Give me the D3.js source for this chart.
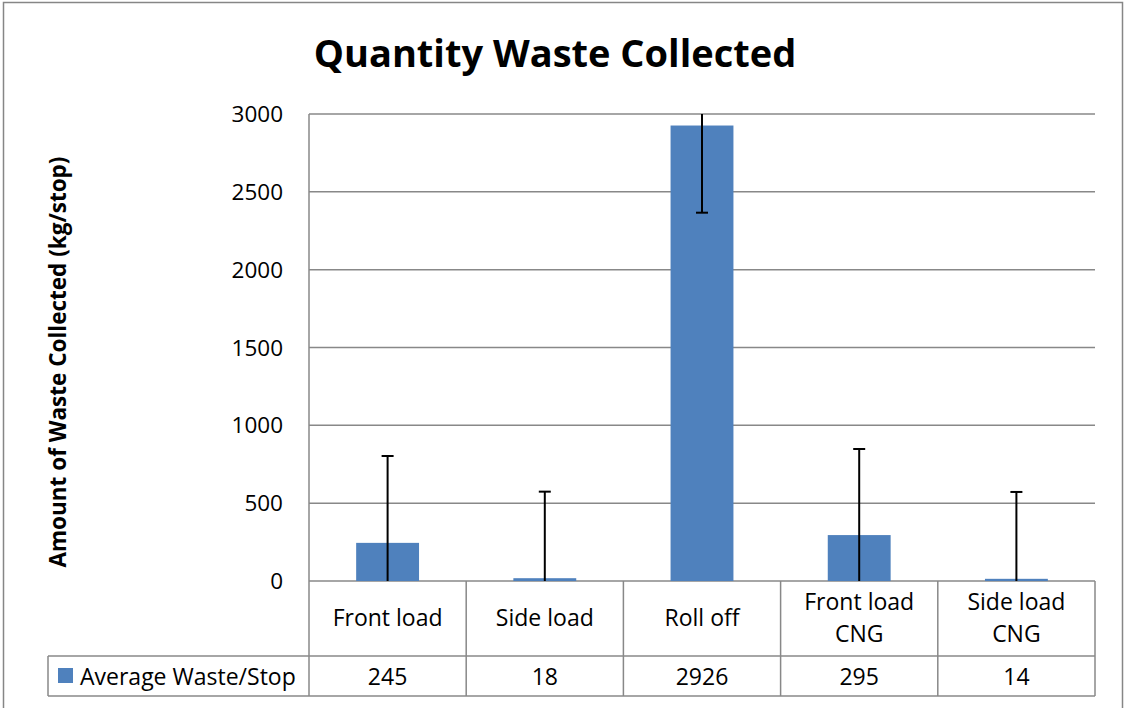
<!DOCTYPE html>
<html>
<head>
<meta charset="utf-8">
<script src="https://cdn.jsdelivr.net/npm/d3@7"></script>
<style>
  body { margin: 0; background: #fff; }
  svg { display: block; font-family: "Open Sans", sans-serif; }
</style>
</head>
<body>
<svg id="chart" width="1126" height="708"></svg>
<script>
// data
const categories = [["Front load"], ["Side load"], ["Roll off"], ["Front load", "CNG"], ["Side load", "CNG"]];
const values = [245, 18, 2926, 295, 14];
const errors = [558, 556, 560, 553, 558];
const yTicks = [0, 500, 1000, 1500, 2000, 2500, 3000];
const seriesName = "Average Waste/Stop";

const barColor = "#4f81bd";
const lineColor = "#888888";

const margin = { left: 309, right: 1095, top: 114, bottom: 581 };
const tableRow1 = 656; // bottom of category row
const tableRow2 = 696; // bottom of value row
const legendLeft = 48;

const svg = d3.select("#chart");

// outer chart border
svg.append("rect")
    .attr("x", 3.5)
    .attr("y", 2.5)
    .attr("width", 1119)
    .attr("height", 720)
    .attr("fill", "none")
    .attr("stroke", "#868686")
    .attr("stroke-width", 1.5);

const xScale = d3.scaleBand()
    .domain(d3.range(categories.length))
    .range([margin.left, margin.right])
    .padding(0);

const yScale = d3.scaleLinear()
    .domain([0, 3000])
    .range([margin.bottom, margin.top]);

// gridlines
svg.append("g")
    .selectAll("line")
    .data(yTicks)
    .join("line")
        .attr("x1", margin.left)
        .attr("x2", margin.right)
        .attr("y1", d => yScale(d))
        .attr("y2", d => yScale(d))
        .attr("stroke", lineColor)
        .attr("stroke-width", 1.5);

// y tick labels
svg.append("g")
    .selectAll("text")
    .data(yTicks)
    .join("text")
        .attr("x", 283)
        .attr("y", d => yScale(d))
        .attr("dy", "0.36em")
        .attr("text-anchor", "end")
        .attr("font-size", 22.5)
        .attr("fill", "#000")
        .text(d => d);

// bars
const barW = xScale.bandwidth() * 0.4;
svg.append("g")
    .selectAll("rect")
    .data(values)
    .join("rect")
        .attr("x", (d, i) => xScale(i) + (xScale.bandwidth() - barW) / 2)
        .attr("y", d => yScale(d))
        .attr("width", barW)
        .attr("height", d => yScale(0) - yScale(d))
        .attr("fill", barColor);

// error bars, clipped to the plot area
svg.append("clipPath")
    .attr("id", "plotClip")
    .append("rect")
        .attr("x", margin.left)
        .attr("y", margin.top)
        .attr("width", margin.right - margin.left)
        .attr("height", margin.bottom - margin.top);

const errG = svg.append("g").attr("clip-path", "url(#plotClip)");
values.forEach((v, i) => {
    const cx = xScale(i) + xScale.bandwidth() / 2;
    const hi = v + errors[i];
    const lo = v - errors[i];
    errG.append("line")
        .attr("x1", cx).attr("x2", cx)
        .attr("y1", yScale(hi)).attr("y2", yScale(lo))
        .attr("stroke", "#000").attr("stroke-width", 2);
    [hi, lo].forEach(e => {
        if (e >= 0 && e <= 3000) {
            errG.append("line")
                .attr("x1", cx - 6).attr("x2", cx + 6)
                .attr("y1", yScale(e)).attr("y2", yScale(e))
                .attr("stroke", "#000").attr("stroke-width", 2);
        }
    });
});

// left axis line down through the table
svg.append("line")
    .attr("x1", margin.left).attr("x2", margin.left)
    .attr("y1", margin.top).attr("y2", tableRow2)
    .attr("stroke", lineColor).attr("stroke-width", 1.5);

// data table lines
const table = svg.append("g")
    .attr("stroke", lineColor)
    .attr("stroke-width", 1.5);

d3.range(1, categories.length + 1).forEach(i => {
    const x = i === categories.length ? margin.right : xScale(i);
    table.append("line")
        .attr("x1", x).attr("x2", x)
        .attr("y1", margin.bottom).attr("y2", tableRow2);
});
[tableRow1, tableRow2].forEach(y => {
    table.append("line")
        .attr("x1", legendLeft).attr("x2", margin.right)
        .attr("y1", y).attr("y2", y);
});
table.append("line")
    .attr("x1", legendLeft).attr("x2", legendLeft)
    .attr("y1", tableRow1).attr("y2", tableRow2);

// category labels
svg.append("g")
    .selectAll("text")
    .data(categories)
    .join("text")
        .attr("x", (d, i) => xScale(i) + xScale.bandwidth() / 2)
        .attr("y", d => d.length === 1 ? 618 : 602)
        .attr("text-anchor", "middle")
        .attr("font-size", 23)
        .attr("fill", "#000")
        .selectAll("tspan")
        .data(d => d)
        .join("tspan")
            .attr("x", function() { return this.parentNode.getAttribute("x"); })
            .attr("dy", (d, j) => j === 0 ? "0.36em" : "1.4em")
            .text(d => d);

// value row
svg.append("g")
    .selectAll("text")
    .data(values)
    .join("text")
        .attr("x", (d, i) => xScale(i) + xScale.bandwidth() / 2)
        .attr("y", 677)
        .attr("dy", "0.36em")
        .attr("text-anchor", "middle")
        .attr("font-size", 23)
        .attr("fill", "#000")
        .text(d => d);

// legend key
svg.append("rect")
    .attr("x", 58).attr("y", 668)
    .attr("width", 15).attr("height", 15)
    .attr("fill", barColor);
svg.append("text")
    .attr("x", 80).attr("y", 677)
    .attr("dy", "0.36em")
    .attr("font-size", 23)
    .attr("fill", "#000")
    .text(seriesName);

// title
svg.append("text")
    .attr("x", 555)
    .attr("y", 67)
    .attr("text-anchor", "middle")
    .attr("font-size", 38)
    .attr("font-weight", 700)
    .attr("fill", "#000")
    .text("Quantity Waste Collected");

// y axis title
svg.append("text")
    .attr("transform", "translate(66, 362) rotate(-90)")
    .attr("text-anchor", "middle")
    .attr("font-size", 22.5)
    .attr("font-weight", 700)
    .attr("fill", "#000")
    .text("Amount of Waste Collected (kg/stop)");
</script>
</body>
</html>
